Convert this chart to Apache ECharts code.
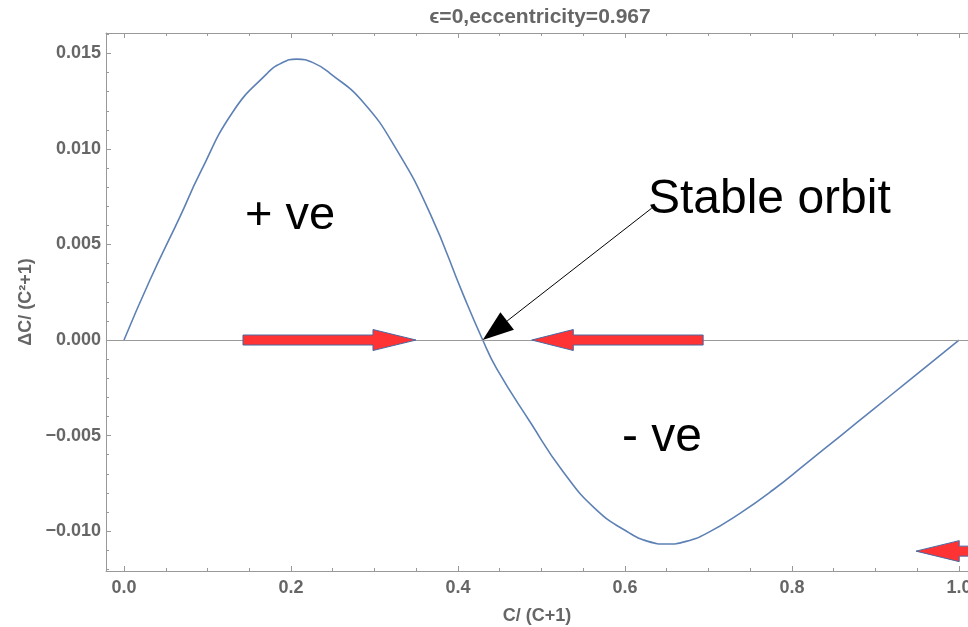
<!DOCTYPE html>
<html>
<head>
<meta charset="utf-8">
<script src="https://cdn.jsdelivr.net/npm/echarts@6/dist/echarts.min.js"></script>
<style>
  html, body { margin: 0; padding: 0; background: #fff; }
  #main { width: 968px; height: 627px; }
</style>
</head>
<body>
<div id="main"></div>
<script>
// curve: x = C/(C+1), y = dC/(C^2+1)
var xs = [0, 0.0311, 0.0671, 0.0910, 0.1305, 0.1709, 0.1889, 0.2068, 0.2263, 0.2467, 0.2862, 0.3266,
          0.3665, 0.4060, 0.4296, 0.4463, 0.4862, 0.5257, 0.5661, 0.6060, 0.6275, 0.6499, 0.6731,
          0.6978, 0.7377, 0.7772, 0.8176, 0.8575, 0.8970, 0.9374, 1.0];
var ys = [0, 0.00314, 0.00646, 0.00873, 0.01195, 0.01393, 0.01450, 0.01470, 0.01452, 0.01396, 0.01246, 0.00995,
          0.00663, 0.00240, 0, -0.00150, -0.00428, -0.00688, -0.00890, -0.01012, -0.01054, -0.01068, -0.01054,
          -0.01012, -0.00907, -0.00785, -0.00644, -0.00504, -0.00364, -0.00222, 0];

var xMajor = [0, 0.2, 0.4, 0.6, 0.8, 1.0];
var xMinor = [0.05, 0.1, 0.15, 0.25, 0.3, 0.35, 0.45, 0.5, 0.55, 0.65, 0.7, 0.75, 0.85, 0.9, 0.95];
var yMajor = [-0.010, -0.005, 0, 0.005, 0.010, 0.015];
var yMinor = [-0.012, -0.011, -0.009, -0.008, -0.007, -0.006, -0.004, -0.003, -0.002, -0.001,
              0.001, 0.002, 0.003, 0.004, 0.006, 0.007, 0.008, 0.009, 0.011, 0.012, 0.013, 0.014, 0.016];

// annotation arrows, in data units: tip, neck (back of head), tail, level
var flowArrows = [
  { tip: 0.3497, neck: 0.2982, tail: 0.1425, y: 0 },
  { tip: 0.4883, neck: 0.5381, tail: 0.6936, y: 0 },
  { tip: 0.9485, neck: 1.0003, tail: 1.06, y: -0.01105 }
];
var stablePoint = [0.4296, 0];
var stableFrom = [0.632, 0.0069];
var notes = [
  { text: '+ ve', x: 0.145, y: 0.00647, size: 47 },
  { text: 'Stable orbit', x: 0.6275, y: 0.00735, size: 48 },
  { text: '- ve', x: 0.5964, y: -0.00513, size: 48 }
];

var xMin = -0.02156, xMax = 1.0108;
var yMin = -0.01209, yMax = 0.01607;

var frameGray = '#999';
var labelGray = '#666';
var font = '"Liberation Sans", Arial, sans-serif';

var chart = echarts.init(document.getElementById('main'));

function fmtY(v) {
    if (Math.abs(v) < 1e-9) return '0.000';
    return (v < 0 ? '\u2212' : '') + Math.abs(v).toFixed(3);
}

function xAxisDef(pos, ticks, len, main) {
    return {
        type: 'value', position: pos, min: xMin, max: xMax,
        axisLine: { show: main, onZero: false, lineStyle: { color: frameGray, width: 1 } },
        axisTick: { show: true, inside: true, length: len, customValues: ticks, lineStyle: { color: frameGray } },
        axisLabel: main && pos === 'bottom' ? {
            customValues: ticks, margin: 8, color: labelGray, fontSize: 18, fontWeight: 'bold', fontFamily: font,
            formatter: function (v) { return v.toFixed(1); }
        } : { show: false },
        splitLine: { show: false }
    };
}

function yAxisDef(ticks, len, main) {
    return {
        type: 'value', position: 'left', min: yMin, max: yMax,
        axisLine: { show: main, onZero: false, lineStyle: { color: frameGray, width: 1 } },
        axisTick: { show: true, inside: true, length: len, customValues: ticks, lineStyle: { color: frameGray } },
        axisLabel: main ? {
            customValues: ticks, margin: 5, color: labelGray, fontSize: 18, fontWeight: 'bold', fontFamily: font,
            formatter: fmtY
        } : { show: false },
        splitLine: { show: false }
    };
}

var xBottom = xAxisDef('bottom', xMajor, 5, true);
xBottom.name = 'C/ (C+1)';
xBottom.nameLocation = 'middle';
xBottom.nameGap = 36;
xBottom.nameTextStyle = { color: labelGray, fontSize: 18, fontWeight: 'bold', fontFamily: font };

var yLeft = yAxisDef(yMajor, 5, true);
yLeft.name = '\u0394C/ (C\u00b2+1)';
yLeft.nameLocation = 'middle';
yLeft.nameGap = 68;
yLeft.nameTextStyle = { color: labelGray, fontSize: 18, fontWeight: 'bold', fontFamily: font };

var points = xs.map(function (x, i) { return [x, ys[i]]; });

chart.setOption({
    animation: false,
    backgroundColor: '#fff',
    grid: { left: 106, right: 0, top: 33, bottom: 56, containLabel: false, outerBoundsMode: 'none' },
    xAxis: [
        xBottom,
        xAxisDef('bottom', xMinor, 3, false),
        xAxisDef('top', xMajor, 5, true),
        xAxisDef('top', xMinor, 3, false)
    ],
    yAxis: [
        yLeft,
        yAxisDef(yMinor, 3, false)
    ],
    series: [{
        type: 'line',
        xAxisIndex: 0,
        yAxisIndex: 0,
        data: points,
        smooth: 0.5,
        showSymbol: false,
        lineStyle: { color: '#5e81b5', width: 1.6 },
        markLine: {
            silent: true,
            symbol: 'none',
            label: { show: false },
            lineStyle: { color: frameGray, width: 1, type: 'solid' },
            data: [{ yAxis: 0 }]
        },
        z: 3
    }]
});

function px(p) {
    return chart.convertToPixel({ seriesIndex: 0 }, p);
}

var graphics = [];

graphics.push({
    type: 'text', x: 540, y: 17.5, z: 10,
    style: {
        text: '\u03f5=0,eccentricity=0.967', fill: labelGray,
        font: 'bold 21px ' + font, align: 'center', verticalAlign: 'middle'
    }
});

// red flow arrows
flowArrows.forEach(function (a) {
    var tip = px([a.tip, a.y]), neck = px([a.neck, a.y]), tail = px([a.tail, a.y]);
    var cy = tip[1], bh = 5, hh = 10.5;
    graphics.push({
        type: 'polygon', z: 5,
        shape: { points: [
            [tail[0], cy - bh], [neck[0], cy - bh], [neck[0], cy - hh], [tip[0], cy],
            [neck[0], cy + hh], [neck[0], cy + bh], [tail[0], cy + bh]
        ] },
        style: { fill: '#ff3333', stroke: '#4a6aa3', lineWidth: 1 }
    });
});

// pointer to the stable orbit
var sp = px(stablePoint), sf = px(stableFrom);
var dx = sf[0] - sp[0], dy = sf[1] - sp[1];
var dl = Math.sqrt(dx * dx + dy * dy);
var ux = dx / dl, uy = dy / dl;
var headLen = 31, headHalf = 11;
var bx = sp[0] + ux * headLen, by = sp[1] + uy * headLen;
graphics.push({
    type: 'line', z: 6,
    shape: { x1: bx, y1: by, x2: sf[0], y2: sf[1] },
    style: { stroke: '#000', lineWidth: 1 }
});
graphics.push({
    type: 'polygon', z: 6,
    shape: { points: [
        [sp[0], sp[1]],
        [bx - uy * headHalf, by + ux * headHalf],
        [bx + uy * headHalf, by - ux * headHalf]
    ] },
    style: { fill: '#000' }
});

notes.forEach(function (n) {
    var p = px([n.x, n.y]);
    graphics.push({
        type: 'text', x: p[0], y: p[1], z: 7,
        style: {
            text: n.text, fill: '#000', font: n.size + 'px ' + font,
            align: 'left', verticalAlign: 'middle'
        }
    });
});

chart.setOption({ graphic: graphics });
</script>
</body>
</html>
